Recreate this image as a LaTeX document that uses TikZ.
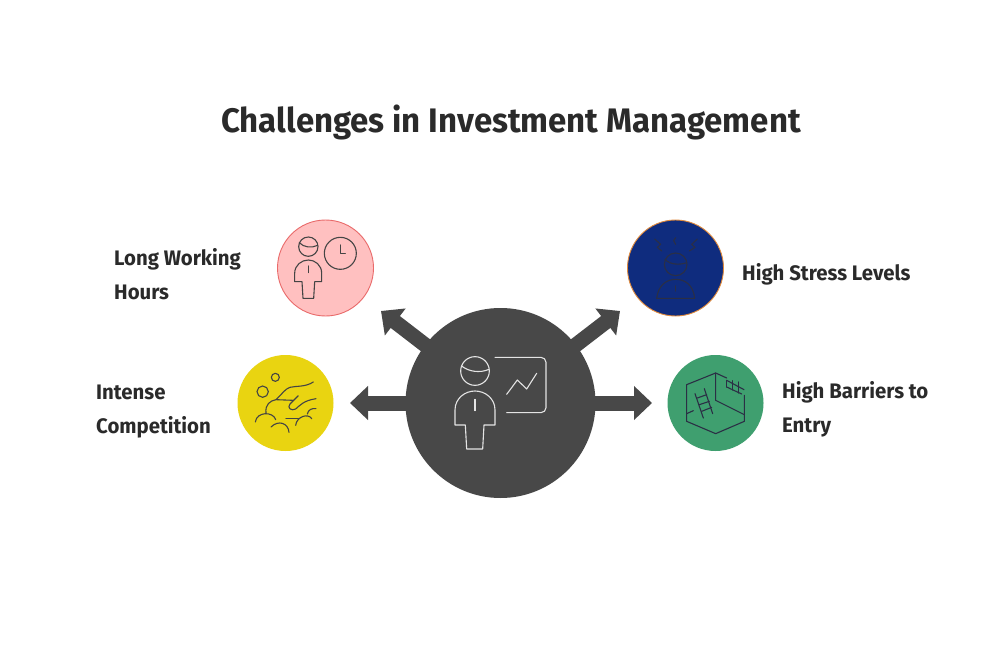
\documentclass[tikz,border=0pt]{standalone}
\usepackage{fontspec}
\setmainfont[BoldFont={Fira Sans Bold},FakeStretch=0.97]{Fira Sans}
\usetikzlibrary{arrows.meta}
\definecolor{hubc}{HTML}{484848}
\definecolor{inkc}{HTML}{2A2A2A}
\definecolor{pinkf}{HTML}{FFC0C0}
\definecolor{pinkd}{HTML}{E96A6A}
\definecolor{navyf}{HTML}{0F2C7E}
\definecolor{navyd}{HTML}{E08A3C}
\definecolor{yelf}{HTML}{E9D411}
\definecolor{grnf}{HTML}{3F9F6F}
\definecolor{iconc}{HTML}{444444}
\definecolor{iconn}{HTML}{2B2F45}
\definecolor{lightc}{HTML}{E4E4E4}
\tikzset{
  x=1pt,y=-1pt,
  hubnode/.style={circle,fill=hubc,minimum size=190pt,inner sep=0pt},
  badge/.style={circle,minimum size=96pt,inner sep=0pt,line width=0.9pt},
  spoke/.style={draw=hubc,line width=15pt,shorten <=-4pt,-{Triangle[length=18pt,width=33pt]}},
  labeltext/.style={anchor=west,align=left,inner sep=0pt,text=inkc,font=\fontsize{21}{34}\selectfont\bfseries},
  titletext/.style={text=inkc,inner sep=0pt,font=\fontsize{34}{40}\selectfont\bfseries},
  icon/.style={line width=1.1pt,line join=round,line cap=round}
}
\begin{document}
\begin{tikzpicture}
\useasboundingbox (0,0) rectangle (1000,660);
\fill[white] (0,0) rectangle (1000,660);
\node[titletext] (title) at (511,122.5) {Challenges in Investment Management};
\coordinate (tipul) at (381,311);
\coordinate (tipur) at (620,311);
\coordinate (tipl) at (350,403);
\coordinate (tipr) at (652,403);
\node[hubnode] (hub) at (500.5,403) {};
\node[badge,fill=pinkf,draw=pinkd] (long) at (325.5,268) {};
\node[badge,fill=navyf,draw=navyd] (stress) at (675.5,268) {};
\node[badge,fill=yelf] (comp) at (285.5,403) {};
\node[badge,fill=grnf] (barr) at (715.5,403) {};
\draw[spoke] (hub) -- (tipul);
\draw[spoke] (hub) -- (tipur);
\draw[spoke] (hub) -- (tipl);
\draw[spoke] (hub) -- (tipr);
\node[labeltext] (tlong) at (114,274) {Long Working\\Hours};
\node[labeltext] (tstress) at (742,274.5) {High Stress Levels};
\node[labeltext] (tcomp) at (96,411.5) {Intense\\Competition};
\node[labeltext] (tbarr) at (782,409.5) {High Barriers to\\Entry};
% centre icon
\begin{scope}[shift={(440,340)},scale=1/3,icon,draw=lightc]
  \draw (105,93) circle[radius=43];
  \draw (65,78) .. controls (85,95) and (120,100) .. (147,88);
  \draw (45,255) -- (45,210) .. controls (45,175) and (75,153) .. (105,153) .. controls (135,153) and (165,175) .. (165,210) -- (165,255) -- (132,255) -- (128,327) -- (80,327) -- (76,255) -- cycle;
  \draw (105,178) -- (105,212);
  \draw[rounded corners=5pt] (165,52) -- (318,52) -- (318,218) -- (200,218);
  \draw (200,163) -- (232,120) -- (260,147) -- (290,100);
\end{scope}
% long working hours
\begin{scope}[shift={(270,210)},scale=1/3,icon,draw=iconc]
  \draw (115,110) circle[radius=29];
  \draw (88,98) .. controls (100,112) and (125,115) .. (143,106);
  \draw (74,215) -- (74,190) .. controls (74,165) and (95,150) .. (115,150) .. controls (135,150) and (155,165) .. (155,190) -- (155,215) -- (134,215) -- (131,265) -- (99,265) -- (96,215) -- cycle;
  \draw (115,168) -- (115,188);
  \draw (211,130) circle[radius=48];
  \draw (211,105) -- (211,130) -- (226,130);
\end{scope}
% stress
\begin{scope}[shift={(620,210)},scale=1/3,icon,draw=iconn]
  \draw (167,163) circle[radius=34];
  \draw (135,148) .. controls (150,165) and (180,165) .. (200,158);
  \draw (110,265) .. controls (115,225) and (140,208) .. (167,208) .. controls (195,208) and (220,225) .. (224,265) -- cycle;
  \draw (167,228) -- (167,243);
  \draw (104,87) -- (122,103) -- (112,112) -- (125,123);
  \draw (167,83) -- (161,92) -- (167,103);
  \draw (232,87) -- (215,103) -- (225,112) -- (208,123);
\end{scope}
% competition
\begin{scope}[shift={(230,348)},scale=1/3,icon,draw=iconc]
  \draw (136,88) circle[radius=12];
  \draw (98,131) circle[radius=17];
  \draw (250,102) .. controls (225,118) and (200,113) .. (180,118) .. controls (165,122) and (155,140) .. (138,155) -- (190,157);
  \draw (205,143) -- (180,168) .. controls (170,180) and (185,190) .. (197,183) .. controls (210,172) and (220,158) .. (258,152);
  \draw (138,155) .. controls (120,158) and (105,170) .. (108,195);
  \draw (76,222) .. controls (80,190) and (130,190) .. (137,215);
  \draw (123,237) .. controls (145,215) and (175,225) .. (177,253);
  \draw (197,232) .. controls (200,205) and (235,195) .. (245,212);
  \draw (232,198) .. controls (235,185) and (245,180) .. (258,182);
  \draw (168,212) -- (205,212);
\end{scope}
% barriers
\begin{scope}[shift={(660,348)},scale=1/3,icon,draw=iconn]
  \draw (200,90) -- (167,75) -- (80,110) -- (80,220) -- (167,257) -- (253,220) -- (253,142);
  \draw (167,75) -- (167,157) -- (253,200);
  \draw (80,197) -- (100,188);
  \draw (105,137) -- (130,210);
  \draw (133,122) -- (158,197);
  \draw (112,150) -- (140,140);
  \draw (118,170) -- (148,160);
  \draw (125,190) -- (155,178);
  \draw (200,97) -- (252,125);
  \draw (200,117) -- (245,138);
  \draw (200,97) -- (200,117);
  \draw (218,98) -- (218,126);
  \draw (235,102) -- (235,135);
\end{scope}
\end{tikzpicture}
\end{document}
